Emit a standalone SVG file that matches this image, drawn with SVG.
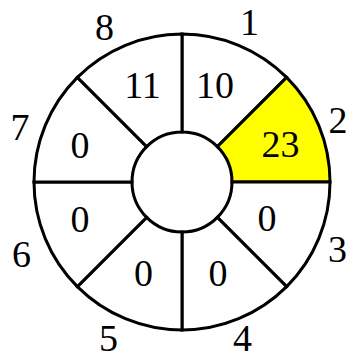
<svg xmlns="http://www.w3.org/2000/svg" width="348" height="358" viewBox="0 0 348 358">
<style>
.s{fill:#ffffff;stroke:#000;stroke-width:3;stroke-linejoin:miter}
.y{fill:#ffff00}
.t{font-family:'Liberation Serif','DejaVu Serif',serif;font-size:38px;fill:#000;text-anchor:middle}
</style>
<rect width="348" height="358" fill="#fff"/>
<g id="sector1">
<path class="s" d="M182,34 A148,148 0 0 1 286.65,77.35 L217.36,146.64 A50,50 0 0 0 182,132 Z"/>
<text class="t" x="215" y="98">10</text>
<text class="t" x="249.5" y="35">1</text>
</g>
<g id="sector2">
<path class="s y" d="M286.65,77.35 A148,148 0 0 1 330,182 L232,182 A50,50 0 0 0 217.36,146.64 Z"/>
<text class="t" x="280.5" y="157">23</text>
<text class="t" x="338" y="133">2</text>
</g>
<g id="sector3">
<path class="s" d="M330,182 A148,148 0 0 1 286.65,286.65 L217.36,217.36 A50,50 0 0 0 232,182 Z"/>
<text class="t" x="267" y="231">0</text>
<text class="t" x="337.5" y="262">3</text>
</g>
<g id="sector4">
<path class="s" d="M286.65,286.65 A148,148 0 0 1 182,330 L182,232 A50,50 0 0 0 217.36,217.36 Z"/>
<text class="t" x="218" y="286">0</text>
<text class="t" x="242.5" y="351">4</text>
</g>
<g id="sector5">
<path class="s" d="M182,330 A148,148 0 0 1 77.35,286.65 L146.64,217.36 A50,50 0 0 0 182,232 Z"/>
<text class="t" x="143.5" y="286">0</text>
<text class="t" x="108.5" y="351">5</text>
</g>
<g id="sector6">
<path class="s" d="M77.35,286.65 A148,148 0 0 1 34,182 L132,182 A50,50 0 0 0 146.64,217.36 Z"/>
<text class="t" x="80" y="232">0</text>
<text class="t" x="21.5" y="267">6</text>
</g>
<g id="sector7">
<path class="s" d="M34,182 A148,148 0 0 1 77.35,77.35 L146.64,146.64 A50,50 0 0 0 132,182 Z"/>
<text class="t" x="80" y="158">0</text>
<text class="t" x="20" y="140">7</text>
</g>
<g id="sector8">
<path class="s" d="M77.35,77.35 A148,148 0 0 1 182,34 L182,132 A50,50 0 0 0 146.64,146.64 Z"/>
<text class="t" x="142.5" y="98">11</text>
<text class="t" x="104.5" y="40">8</text>
</g>
<g id="connectors"></g>
</svg>
